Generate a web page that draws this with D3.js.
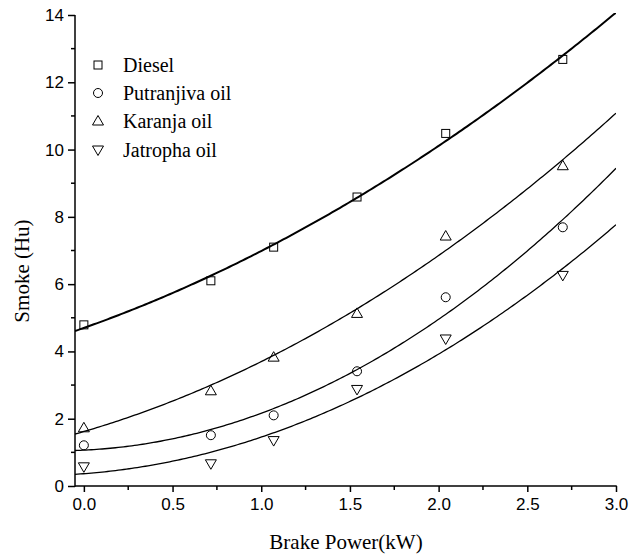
<!DOCTYPE html>
<html>
<head>
<meta charset="utf-8">
<script src="https://cdn.jsdelivr.net/npm/d3@7"></script>
<style>
  html, body { margin: 0; padding: 0; background: #fff; }
  svg { display: block; }
  .serif { font-family: "Liberation Serif", "Times New Roman", "DejaVu Serif", serif; }
  .sans { font-family: "Liberation Sans", Arial, Helvetica, sans-serif; }
</style>
</head>
<body>
<svg id="chart" width="631" height="558"></svg>
<script>
// Brake power (kW) at each load step
const brakePower = [0, 0.716, 1.07, 1.54, 2.04, 2.70];

// Smoke opacity (Hartridge units) for each fuel
const diesel     = [4.79, 6.10, 7.10, 8.59, 10.48, 12.68];
const putranjiva = [1.21, 1.51, 2.10, 3.41, 5.61, 7.69];
const karanja    = [1.73, 2.83, 3.83, 5.13, 7.43, 9.52];
const jatropha   = [0.57, 0.66, 1.35, 2.87, 4.37, 6.26];

const seriesNames = ["Diesel", "Putranjiva oil", "Karanja oil", "Jatropha oil"];
const seriesSymbols = ["square", "circle", "triangle", "triangleDown"];
const seriesValues = [diesel, putranjiva, karanja, jatropha];
const seriesLineWidths = [2, 1.3, 1.3, 1.3];

const xTicks = [0, 0.5, 1.0, 1.5, 2.0, 2.5, 3.0];
const yTicks = [0, 2, 4, 6, 8, 10, 12, 14];

(function () {
const svg = d3.select("#chart");
const plotLeft = 75, plotRight = 616, plotTop = 15, plotBottom = 486;

const x = d3.scaleLinear().domain([-0.05, 3.0]).range([plotLeft, plotRight]);
const y = d3.scaleLinear().domain([0, 14]).range([plotBottom, plotTop]);

// Least-squares quadratic fit y = a + b x + c x^2
function quadFit(xs, ys) {
  const S = [0, 0, 0, 0, 0], T = [0, 0, 0];
  xs.forEach((xv, i) => {
    for (let k = 0; k < 5; k++) S[k] += Math.pow(xv, k);
    for (let k = 0; k < 3; k++) T[k] += ys[i] * Math.pow(xv, k);
  });
  const M = [[S[0], S[1], S[2], T[0]], [S[1], S[2], S[3], T[1]], [S[2], S[3], S[4], T[2]]];
  for (let i = 0; i < 3; i++) {
    for (let j = i + 1; j < 3; j++) {
      const f = M[j][i] / M[i][i];
      for (let k = i; k < 4; k++) M[j][k] -= f * M[i][k];
    }
  }
  const c = [0, 0, 0];
  for (let i = 2; i >= 0; i--) {
    let s = M[i][3];
    for (let k = i + 1; k < 3; k++) s -= M[i][k] * c[k];
    c[i] = s / M[i][i];
  }
  return xv => c[0] + c[1] * xv + c[2] * xv * xv;
}

svg.append("clipPath").attr("id", "plotClip")
  .append("rect").attr("x", plotLeft).attr("y", plotTop - 2)
  .attr("width", plotRight - plotLeft).attr("height", plotBottom - plotTop + 2);

// Fitted curves
const fitXs = d3.range(0, 201).map(i => -0.05 + i * (3.05 / 200));
const line = d3.line().x(d => x(d[0])).y(d => y(d[1]));
seriesValues.forEach((vals, si) => {
  const f = quadFit(brakePower, vals);
  svg.append("path")
    .attr("clip-path", "url(#plotClip)")
    .attr("d", line(fitXs.map(xv => [xv, f(xv)])))
    .attr("fill", "none")
    .attr("stroke", "#000")
    .attr("stroke-width", seriesLineWidths[si]);
});

// Marker shapes
function drawSymbol(g, type, cx, cy) {
  if (type === "square") {
    g.append("rect").attr("x", cx - 4).attr("y", cy - 4).attr("width", 8).attr("height", 8)
      .attr("fill", "none").attr("stroke", "#000").attr("stroke-width", 1);
  } else if (type === "circle") {
    g.append("circle").attr("cx", cx).attr("cy", cy).attr("r", 4.5)
      .attr("fill", "none").attr("stroke", "#000").attr("stroke-width", 1);
  } else if (type === "triangle") {
    g.append("path").attr("d", `M${cx},${cy - 5.5}L${cx + 5.5},${cy + 4}L${cx - 5.5},${cy + 4}Z`)
      .attr("fill", "none").attr("stroke", "#000").attr("stroke-width", 1);
  } else {
    g.append("path").attr("d", `M${cx},${cy + 5.5}L${cx + 5.5},${cy - 4}L${cx - 5.5},${cy - 4}Z`)
      .attr("fill", "none").attr("stroke", "#000").attr("stroke-width", 1);
  }
}

const marks = svg.append("g");
seriesValues.forEach((vals, si) => {
  vals.forEach((v, i) => drawSymbol(marks, seriesSymbols[si], x(brakePower[i]), y(v)));
});

// Axes
const xAxis = d3.axisBottom(x).tickValues(xTicks).tickFormat(d3.format(".1f")).tickSize(6).tickPadding(6);
const yAxis = d3.axisLeft(y).tickValues(yTicks).tickFormat(d3.format("d")).tickSize(7).tickPadding(4);

const gx = svg.append("g").attr("transform", `translate(0,${plotBottom})`).call(xAxis);
const gy = svg.append("g").attr("transform", `translate(${plotLeft},0)`).call(yAxis);
[gx, gy].forEach(g => {
  g.attr("font-family", null).attr("font-size", null);
  g.select(".domain").remove();
  g.selectAll("line").attr("stroke", "#000").attr("stroke-width", 1.5);
  g.selectAll("text").attr("class", "sans").style("font-size", "17px").attr("fill", "#000");
});
svg.append("line").attr("x1", plotLeft).attr("x2", plotRight + 0.75).attr("y1", plotBottom).attr("y2", plotBottom)
  .attr("stroke", "#000").attr("stroke-width", 1.5);
svg.append("line").attr("x1", plotLeft).attr("x2", plotLeft).attr("y1", plotTop).attr("y2", plotBottom + 0.75)
  .attr("stroke", "#000").attr("stroke-width", 1.5);

// Minor ticks
const xMinor = d3.range(0.25, 3.0, 0.5);
svg.append("g").selectAll("line").data(xMinor).join("line")
  .attr("x1", d => x(d)).attr("x2", d => x(d)).attr("y1", plotBottom).attr("y2", plotBottom + 4)
  .attr("stroke", "#000").attr("stroke-width", 1.5);
const yMinor = d3.range(1, 14, 2);
svg.append("g").selectAll("line").data(yMinor).join("line")
  .attr("x1", plotLeft - 4).attr("x2", plotLeft).attr("y1", d => y(d)).attr("y2", d => y(d))
  .attr("stroke", "#000").attr("stroke-width", 1.5);

// Axis titles
svg.append("text").attr("class", "serif").attr("x", 346).attr("y", 549).attr("text-anchor", "middle")
  .style("font-size", "21px").text("Brake Power(kW)");
svg.append("text").attr("class", "serif").attr("transform", "translate(29,271) rotate(-90)").attr("text-anchor", "middle")
  .style("font-size", "21px").text("Smoke (Hu)");

// Legend
const legend = svg.append("g");
const legendRows = [65, 93, 121, 150];
seriesNames.forEach((name, i) => {
  drawSymbol(legend, seriesSymbols[i], 98, legendRows[i]);
  legend.append("text").attr("class", "serif").attr("x", 123).attr("y", legendRows[i] + 7)
    .style("font-size", "20px").text(name);
});
})();
</script>
</body>
</html>
